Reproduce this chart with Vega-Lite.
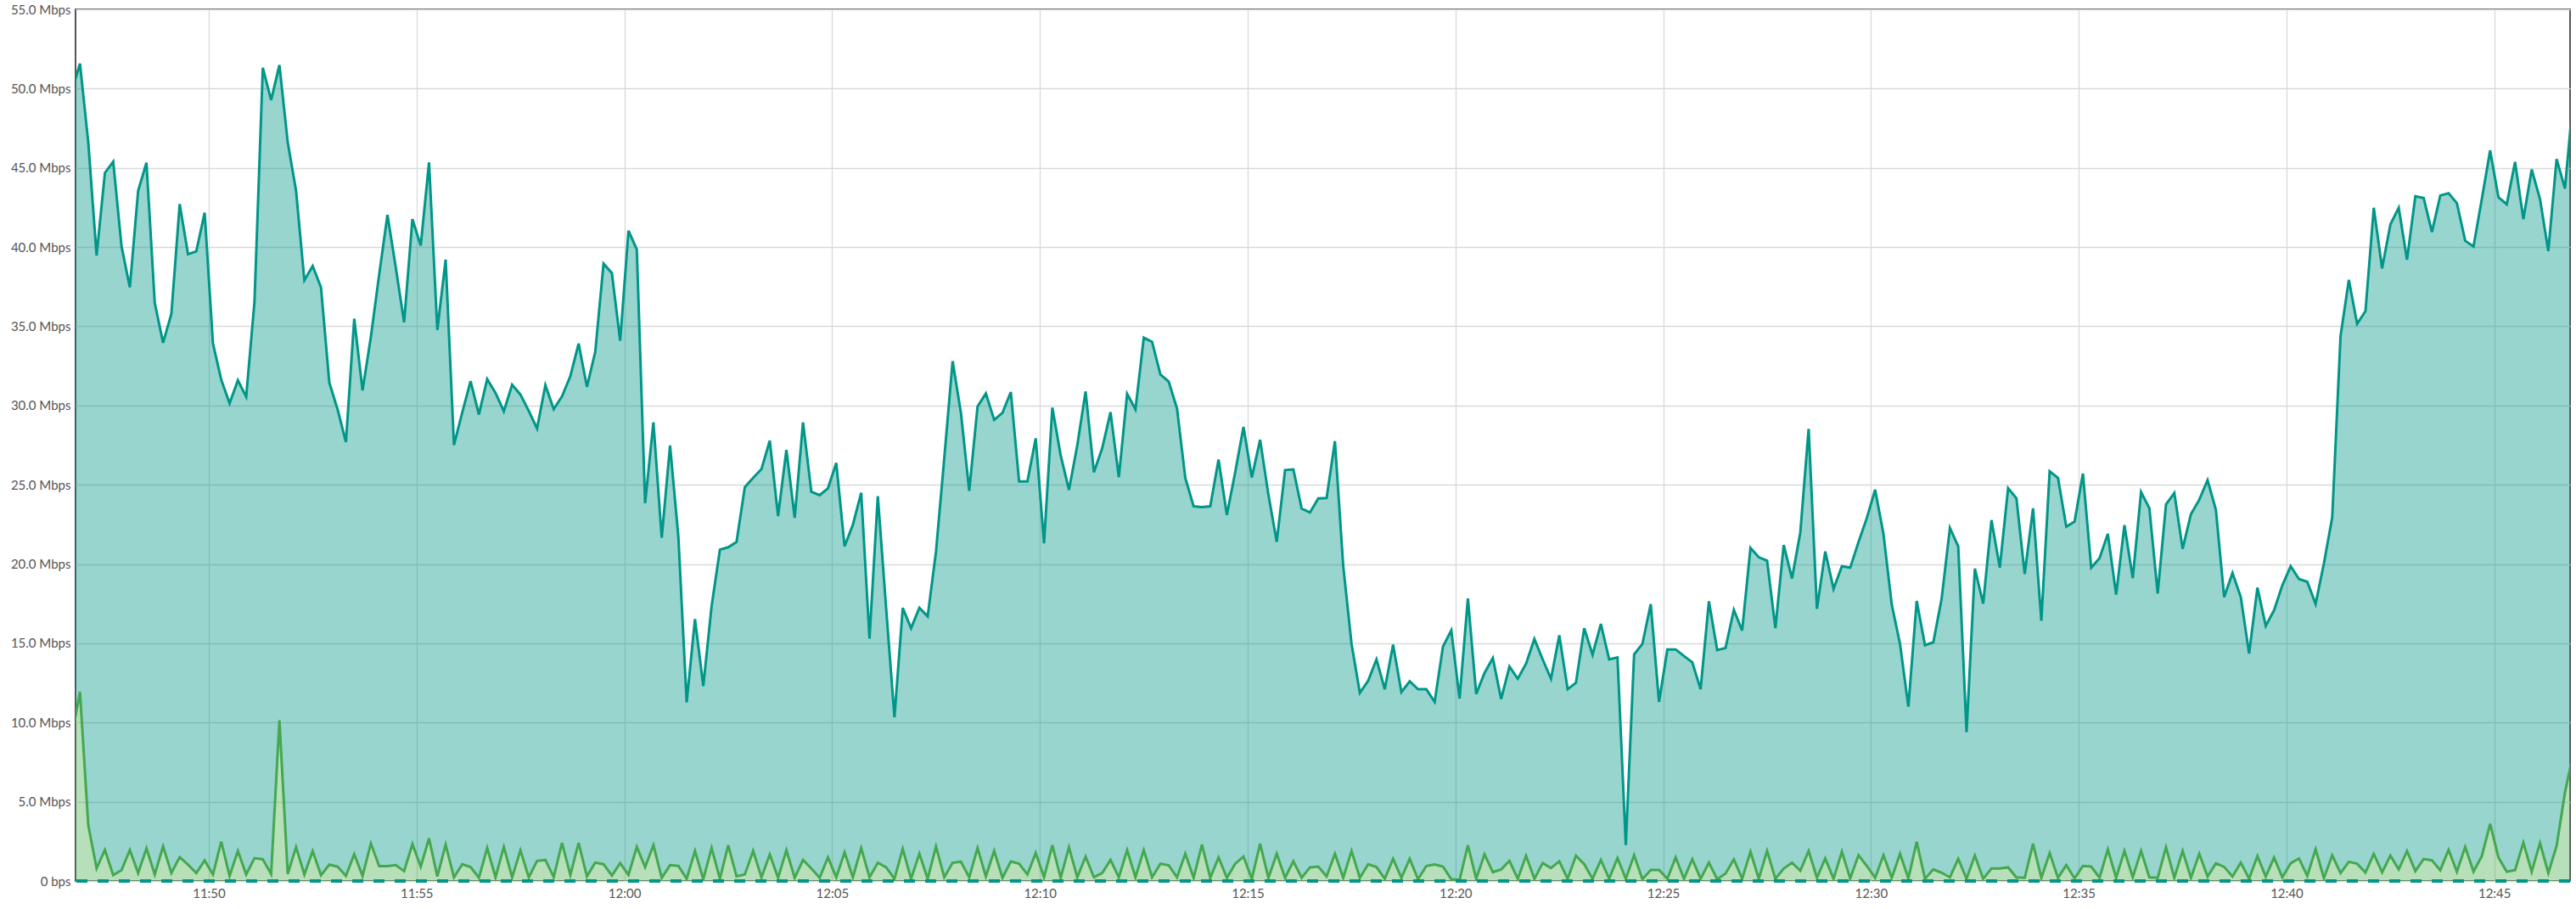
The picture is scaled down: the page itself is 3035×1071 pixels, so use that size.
{
"$schema": "https://vega.github.io/schema/vega-lite/v6.json",
"width": 2939, "height": 1027,
"autosize": "none",
"padding": {"left": 89, "top": 11, "right": 7, "bottom": 33},
"background": "white",
"config": {"view": {"stroke": "#555555", "strokeWidth": 2}, "font": "Lato"},
"data": {"values": [
{"t":"2024-01-01T11:46:42Z","a":49.8,"g":9.04},
{"t":"2024-01-01T11:46:54Z","a":51.58,"g":11.94},
{"t":"2024-01-01T11:47:06Z","a":46.6,"g":3.52},
{"t":"2024-01-01T11:47:18Z","a":39.46,"g":0.8},
{"t":"2024-01-01T11:47:30Z","a":44.68,"g":1.96},
{"t":"2024-01-01T11:47:42Z","a":45.39,"g":0.37},
{"t":"2024-01-01T11:47:54Z","a":40.05,"g":0.68},
{"t":"2024-01-01T11:48:06Z","a":37.46,"g":1.96},
{"t":"2024-01-01T11:48:18Z","a":43.55,"g":0.5},
{"t":"2024-01-01T11:48:30Z","a":45.32,"g":2.06},
{"t":"2024-01-01T11:48:42Z","a":36.47,"g":0.41},
{"t":"2024-01-01T11:48:54Z","a":33.96,"g":2.19},
{"t":"2024-01-01T11:49:06Z","a":35.79,"g":0.5},
{"t":"2024-01-01T11:49:18Z","a":42.71,"g":1.51},
{"t":"2024-01-01T11:49:30Z","a":39.55,"g":1.03},
{"t":"2024-01-01T11:49:42Z","a":39.73,"g":0.5},
{"t":"2024-01-01T11:49:54Z","a":42.17,"g":1.3},
{"t":"2024-01-01T11:50:06Z","a":33.92,"g":0.41},
{"t":"2024-01-01T11:50:18Z","a":31.63,"g":2.49},
{"t":"2024-01-01T11:50:30Z","a":30.14,"g":0.32},
{"t":"2024-01-01T11:50:42Z","a":31.59,"g":1.9},
{"t":"2024-01-01T11:50:54Z","a":30.56,"g":0.41},
{"t":"2024-01-01T11:51:06Z","a":36.56,"g":1.44},
{"t":"2024-01-01T11:51:18Z","a":51.31,"g":1.37},
{"t":"2024-01-01T11:51:30Z","a":49.28,"g":0.44},
{"t":"2024-01-01T11:51:42Z","a":51.49,"g":10.14},
{"t":"2024-01-01T11:51:54Z","a":46.6,"g":0.44},
{"t":"2024-01-01T11:52:06Z","a":43.55,"g":2.14},
{"t":"2024-01-01T11:52:18Z","a":37.9,"g":0.41},
{"t":"2024-01-01T11:52:30Z","a":38.8,"g":1.89},
{"t":"2024-01-01T11:52:42Z","a":37.46,"g":0.37},
{"t":"2024-01-01T11:52:54Z","a":31.45,"g":1.03},
{"t":"2024-01-01T11:53:06Z","a":29.75,"g":0.91},
{"t":"2024-01-01T11:53:18Z","a":27.69,"g":0.32},
{"t":"2024-01-01T11:53:30Z","a":35.48,"g":1.69},
{"t":"2024-01-01T11:53:42Z","a":30.95,"g":0.32},
{"t":"2024-01-01T11:53:54Z","a":34.32,"g":2.37},
{"t":"2024-01-01T11:54:06Z","a":38.26,"g":0.94},
{"t":"2024-01-01T11:54:18Z","a":42.03,"g":0.94},
{"t":"2024-01-01T11:54:30Z","a":38.71,"g":1.0},
{"t":"2024-01-01T11:54:42Z","a":35.25,"g":0.62},
{"t":"2024-01-01T11:54:54Z","a":41.76,"g":2.33},
{"t":"2024-01-01T11:55:06Z","a":40.09,"g":0.9},
{"t":"2024-01-01T11:55:18Z","a":45.34,"g":2.69},
{"t":"2024-01-01T11:55:30Z","a":34.77,"g":0.29},
{"t":"2024-01-01T11:55:42Z","a":39.21,"g":2.29},
{"t":"2024-01-01T11:55:54Z","a":27.51,"g":0.23},
{"t":"2024-01-01T11:56:06Z","a":29.57,"g":1.06},
{"t":"2024-01-01T11:56:18Z","a":31.54,"g":0.88},
{"t":"2024-01-01T11:56:30Z","a":29.43,"g":0.2},
{"t":"2024-01-01T11:56:42Z","a":31.67,"g":2.08},
{"t":"2024-01-01T11:56:54Z","a":30.8,"g":0.23},
{"t":"2024-01-01T11:57:06Z","a":29.64,"g":2.15},
{"t":"2024-01-01T11:57:18Z","a":31.31,"g":0.23},
{"t":"2024-01-01T11:57:30Z","a":30.69,"g":1.94},
{"t":"2024-01-01T11:57:42Z","a":29.66,"g":0.23},
{"t":"2024-01-01T11:57:54Z","a":28.55,"g":1.27},
{"t":"2024-01-01T11:58:06Z","a":31.29,"g":1.33},
{"t":"2024-01-01T11:58:18Z","a":29.77,"g":0.25},
{"t":"2024-01-01T11:58:30Z","a":30.58,"g":2.4},
{"t":"2024-01-01T11:58:42Z","a":31.85,"g":0.38},
{"t":"2024-01-01T11:58:54Z","a":33.91,"g":2.4},
{"t":"2024-01-01T11:59:06Z","a":31.18,"g":0.29},
{"t":"2024-01-01T11:59:18Z","a":33.39,"g":1.16},
{"t":"2024-01-01T11:59:30Z","a":38.95,"g":1.06},
{"t":"2024-01-01T11:59:42Z","a":38.36,"g":0.34},
{"t":"2024-01-01T11:59:54Z","a":34.09,"g":1.13},
{"t":"2024-01-01T12:00:06Z","a":41.03,"g":0.38},
{"t":"2024-01-01T12:00:18Z","a":39.85,"g":2.15},
{"t":"2024-01-01T12:00:30Z","a":23.84,"g":0.88},
{"t":"2024-01-01T12:00:42Z","a":28.94,"g":2.26},
{"t":"2024-01-01T12:00:54Z","a":21.65,"g":0.2},
{"t":"2024-01-01T12:01:06Z","a":27.48,"g":1.0},
{"t":"2024-01-01T12:01:18Z","a":21.72,"g":0.95},
{"t":"2024-01-01T12:01:30Z","a":11.27,"g":0.14},
{"t":"2024-01-01T12:01:42Z","a":16.53,"g":1.9},
{"t":"2024-01-01T12:01:54Z","a":12.3,"g":0.11},
{"t":"2024-01-01T12:02:06Z","a":17.34,"g":2.08},
{"t":"2024-01-01T12:02:18Z","a":20.91,"g":0.14},
{"t":"2024-01-01T12:02:30Z","a":21.06,"g":2.26},
{"t":"2024-01-01T12:02:42Z","a":21.39,"g":0.29},
{"t":"2024-01-01T12:02:54Z","a":24.85,"g":0.41},
{"t":"2024-01-01T12:03:06Z","a":25.44,"g":1.9},
{"t":"2024-01-01T12:03:18Z","a":25.99,"g":0.23},
{"t":"2024-01-01T12:03:30Z","a":27.78,"g":1.68},
{"t":"2024-01-01T12:03:42Z","a":23.03,"g":0.2},
{"t":"2024-01-01T12:03:54Z","a":27.19,"g":1.94},
{"t":"2024-01-01T12:04:06Z","a":22.92,"g":0.2},
{"t":"2024-01-01T12:04:18Z","a":28.94,"g":1.33},
{"t":"2024-01-01T12:04:30Z","a":24.56,"g":0.79},
{"t":"2024-01-01T12:04:42Z","a":24.34,"g":0.2},
{"t":"2024-01-01T12:04:54Z","a":24.78,"g":1.49},
{"t":"2024-01-01T12:05:06Z","a":26.38,"g":0.23},
{"t":"2024-01-01T12:05:18Z","a":21.12,"g":1.81},
{"t":"2024-01-01T12:05:30Z","a":22.48,"g":0.23},
{"t":"2024-01-01T12:05:42Z","a":24.5,"g":2.08},
{"t":"2024-01-01T12:05:54Z","a":15.3,"g":0.23},
{"t":"2024-01-01T12:06:06Z","a":24.28,"g":1.15},
{"t":"2024-01-01T12:06:18Z","a":17.23,"g":0.86},
{"t":"2024-01-01T12:06:30Z","a":10.33,"g":0.14},
{"t":"2024-01-01T12:06:42Z","a":17.23,"g":2.03},
{"t":"2024-01-01T12:06:54Z","a":15.95,"g":0.14},
{"t":"2024-01-01T12:07:06Z","a":17.24,"g":1.72},
{"t":"2024-01-01T12:07:18Z","a":16.7,"g":0.14},
{"t":"2024-01-01T12:07:30Z","a":20.78,"g":2.17},
{"t":"2024-01-01T12:07:42Z","a":26.7,"g":0.23},
{"t":"2024-01-01T12:07:54Z","a":32.8,"g":1.15},
{"t":"2024-01-01T12:08:06Z","a":29.54,"g":1.22},
{"t":"2024-01-01T12:08:18Z","a":24.62,"g":0.23},
{"t":"2024-01-01T12:08:30Z","a":29.94,"g":2.08},
{"t":"2024-01-01T12:08:42Z","a":30.76,"g":0.29},
{"t":"2024-01-01T12:08:54Z","a":29.1,"g":1.9},
{"t":"2024-01-01T12:09:06Z","a":29.54,"g":0.2},
{"t":"2024-01-01T12:09:18Z","a":30.85,"g":1.23},
{"t":"2024-01-01T12:09:30Z","a":25.21,"g":1.09},
{"t":"2024-01-01T12:09:42Z","a":25.21,"g":0.41},
{"t":"2024-01-01T12:09:54Z","a":27.93,"g":1.77},
{"t":"2024-01-01T12:10:06Z","a":21.31,"g":0.23},
{"t":"2024-01-01T12:10:18Z","a":29.87,"g":2.26},
{"t":"2024-01-01T12:10:30Z","a":26.86,"g":0.2},
{"t":"2024-01-01T12:10:42Z","a":24.68,"g":2.13},
{"t":"2024-01-01T12:10:54Z","a":27.49,"g":0.23},
{"t":"2024-01-01T12:11:06Z","a":30.89,"g":1.54},
{"t":"2024-01-01T12:11:18Z","a":25.79,"g":0.23},
{"t":"2024-01-01T12:11:30Z","a":27.31,"g":0.5},
{"t":"2024-01-01T12:11:42Z","a":29.58,"g":1.33},
{"t":"2024-01-01T12:11:54Z","a":25.48,"g":0.23},
{"t":"2024-01-01T12:12:06Z","a":30.74,"g":1.95},
{"t":"2024-01-01T12:12:18Z","a":29.76,"g":0.23},
{"t":"2024-01-01T12:12:30Z","a":34.28,"g":1.95},
{"t":"2024-01-01T12:12:42Z","a":34.02,"g":0.23},
{"t":"2024-01-01T12:12:54Z","a":31.96,"g":1.09},
{"t":"2024-01-01T12:13:06Z","a":31.51,"g":0.99},
{"t":"2024-01-01T12:13:18Z","a":29.81,"g":0.23},
{"t":"2024-01-01T12:13:30Z","a":25.43,"g":1.72},
{"t":"2024-01-01T12:13:42Z","a":23.64,"g":0.2},
{"t":"2024-01-01T12:13:54Z","a":23.59,"g":2.29},
{"t":"2024-01-01T12:14:06Z","a":23.64,"g":0.2},
{"t":"2024-01-01T12:14:18Z","a":26.59,"g":1.49},
{"t":"2024-01-01T12:14:30Z","a":23.1,"g":0.2},
{"t":"2024-01-01T12:14:42Z","a":25.79,"g":1.09},
{"t":"2024-01-01T12:14:54Z","a":28.65,"g":1.54},
{"t":"2024-01-01T12:15:06Z","a":25.46,"g":0.14},
{"t":"2024-01-01T12:15:18Z","a":27.84,"g":2.35},
{"t":"2024-01-01T12:15:30Z","a":24.36,"g":0.2},
{"t":"2024-01-01T12:15:42Z","a":21.4,"g":1.72},
{"t":"2024-01-01T12:15:54Z","a":25.93,"g":0.2},
{"t":"2024-01-01T12:16:06Z","a":25.97,"g":1.24},
{"t":"2024-01-01T12:16:18Z","a":23.5,"g":0.2},
{"t":"2024-01-01T12:16:30Z","a":23.25,"g":0.86},
{"t":"2024-01-01T12:16:42Z","a":24.14,"g":0.91},
{"t":"2024-01-01T12:16:54Z","a":24.16,"g":0.29},
{"t":"2024-01-01T12:17:06Z","a":27.75,"g":1.72},
{"t":"2024-01-01T12:17:18Z","a":19.88,"g":0.2},
{"t":"2024-01-01T12:17:30Z","a":14.96,"g":1.9},
{"t":"2024-01-01T12:17:42Z","a":11.87,"g":0.2},
{"t":"2024-01-01T12:17:54Z","a":12.64,"g":1.06},
{"t":"2024-01-01T12:18:06Z","a":13.98,"g":0.88},
{"t":"2024-01-01T12:18:18Z","a":12.1,"g":0.14},
{"t":"2024-01-01T12:18:30Z","a":14.91,"g":1.4},
{"t":"2024-01-01T12:18:42Z","a":11.92,"g":0.2},
{"t":"2024-01-01T12:18:54Z","a":12.6,"g":1.4},
{"t":"2024-01-01T12:19:06Z","a":12.1,"g":0.11},
{"t":"2024-01-01T12:19:18Z","a":12.1,"g":0.95},
{"t":"2024-01-01T12:19:30Z","a":11.3,"g":1.04},
{"t":"2024-01-01T12:19:42Z","a":14.79,"g":0.91},
{"t":"2024-01-01T12:19:54Z","a":15.81,"g":0.11},
{"t":"2024-01-01T12:20:06Z","a":11.51,"g":0.07},
{"t":"2024-01-01T12:20:18Z","a":17.83,"g":2.26},
{"t":"2024-01-01T12:20:30Z","a":11.8,"g":0.14},
{"t":"2024-01-01T12:20:42Z","a":13.12,"g":1.68},
{"t":"2024-01-01T12:20:54Z","a":14.07,"g":0.56},
{"t":"2024-01-01T12:21:06Z","a":11.48,"g":0.73},
{"t":"2024-01-01T12:21:18Z","a":13.53,"g":1.27},
{"t":"2024-01-01T12:21:30Z","a":12.76,"g":0.14},
{"t":"2024-01-01T12:21:42Z","a":13.71,"g":1.59},
{"t":"2024-01-01T12:21:54Z","a":15.27,"g":0.14},
{"t":"2024-01-01T12:22:06Z","a":13.98,"g":1.13},
{"t":"2024-01-01T12:22:18Z","a":12.76,"g":0.82},
{"t":"2024-01-01T12:22:30Z","a":15.5,"g":1.24},
{"t":"2024-01-01T12:22:42Z","a":12.1,"g":0.14},
{"t":"2024-01-01T12:22:54Z","a":12.51,"g":1.59},
{"t":"2024-01-01T12:23:06Z","a":15.95,"g":1.06},
{"t":"2024-01-01T12:23:18Z","a":14.28,"g":0.14},
{"t":"2024-01-01T12:23:30Z","a":16.22,"g":1.33},
{"t":"2024-01-01T12:23:42Z","a":13.98,"g":0.14},
{"t":"2024-01-01T12:23:54Z","a":14.11,"g":1.45},
{"t":"2024-01-01T12:24:06Z","a":2.26,"g":0.14},
{"t":"2024-01-01T12:24:18Z","a":14.3,"g":1.63},
{"t":"2024-01-01T12:24:30Z","a":14.96,"g":0.11},
{"t":"2024-01-01T12:24:42Z","a":17.47,"g":0.7},
{"t":"2024-01-01T12:24:54Z","a":11.3,"g":0.7},
{"t":"2024-01-01T12:25:06Z","a":14.61,"g":0.14},
{"t":"2024-01-01T12:25:18Z","a":14.61,"g":1.49},
{"t":"2024-01-01T12:25:30Z","a":14.2,"g":0.14},
{"t":"2024-01-01T12:25:42Z","a":13.8,"g":1.38},
{"t":"2024-01-01T12:25:54Z","a":12.1,"g":0.14},
{"t":"2024-01-01T12:26:06Z","a":17.65,"g":1.16},
{"t":"2024-01-01T12:26:18Z","a":14.57,"g":0.11},
{"t":"2024-01-01T12:26:30Z","a":14.7,"g":0.47},
{"t":"2024-01-01T12:26:42Z","a":17.11,"g":1.36},
{"t":"2024-01-01T12:26:54Z","a":15.8,"g":0.14},
{"t":"2024-01-01T12:27:06Z","a":21.02,"g":1.85},
{"t":"2024-01-01T12:27:18Z","a":20.43,"g":0.14},
{"t":"2024-01-01T12:27:30Z","a":20.21,"g":1.9},
{"t":"2024-01-01T12:27:42Z","a":15.96,"g":0.14},
{"t":"2024-01-01T12:27:54Z","a":21.2,"g":0.79},
{"t":"2024-01-01T12:28:06Z","a":19.09,"g":1.15},
{"t":"2024-01-01T12:28:18Z","a":22.0,"g":0.65},
{"t":"2024-01-01T12:28:30Z","a":28.53,"g":1.9},
{"t":"2024-01-01T12:28:42Z","a":17.17,"g":0.2},
{"t":"2024-01-01T12:28:54Z","a":20.79,"g":1.42},
{"t":"2024-01-01T12:29:06Z","a":18.43,"g":0.14},
{"t":"2024-01-01T12:29:18Z","a":19.86,"g":1.85},
{"t":"2024-01-01T12:29:30Z","a":19.77,"g":0.16},
{"t":"2024-01-01T12:29:42Z","a":21.38,"g":1.63},
{"t":"2024-01-01T12:29:54Z","a":22.9,"g":0.95},
{"t":"2024-01-01T12:30:06Z","a":24.69,"g":0.2},
{"t":"2024-01-01T12:30:18Z","a":21.91,"g":1.63},
{"t":"2024-01-01T12:30:30Z","a":17.44,"g":0.2},
{"t":"2024-01-01T12:30:42Z","a":14.94,"g":1.72},
{"t":"2024-01-01T12:30:54Z","a":11.0,"g":0.16},
{"t":"2024-01-01T12:31:06Z","a":17.67,"g":2.47},
{"t":"2024-01-01T12:31:18Z","a":14.88,"g":0.14},
{"t":"2024-01-01T12:31:30Z","a":15.06,"g":0.73},
{"t":"2024-01-01T12:31:42Z","a":17.8,"g":0.52},
{"t":"2024-01-01T12:31:54Z","a":22.27,"g":0.23},
{"t":"2024-01-01T12:32:06Z","a":21.11,"g":1.4},
{"t":"2024-01-01T12:32:18Z","a":9.39,"g":0.14},
{"t":"2024-01-01T12:32:30Z","a":19.71,"g":1.61},
{"t":"2024-01-01T12:32:42Z","a":17.5,"g":0.14},
{"t":"2024-01-01T12:32:54Z","a":22.77,"g":0.79},
{"t":"2024-01-01T12:33:06Z","a":19.77,"g":0.79},
{"t":"2024-01-01T12:33:18Z","a":24.78,"g":0.86},
{"t":"2024-01-01T12:33:30Z","a":24.15,"g":0.23},
{"t":"2024-01-01T12:33:42Z","a":19.37,"g":0.2},
{"t":"2024-01-01T12:33:54Z","a":23.52,"g":2.35},
{"t":"2024-01-01T12:34:06Z","a":16.42,"g":0.2},
{"t":"2024-01-01T12:34:18Z","a":25.85,"g":1.76},
{"t":"2024-01-01T12:34:30Z","a":25.44,"g":0.2},
{"t":"2024-01-01T12:34:42Z","a":22.36,"g":1.0},
{"t":"2024-01-01T12:34:54Z","a":22.68,"g":0.16},
{"t":"2024-01-01T12:35:06Z","a":25.71,"g":0.95},
{"t":"2024-01-01T12:35:18Z","a":19.77,"g":0.91},
{"t":"2024-01-01T12:35:30Z","a":20.36,"g":0.2},
{"t":"2024-01-01T12:35:42Z","a":21.91,"g":1.99},
{"t":"2024-01-01T12:35:54Z","a":18.07,"g":0.2},
{"t":"2024-01-01T12:36:06Z","a":22.45,"g":1.9},
{"t":"2024-01-01T12:36:18Z","a":19.11,"g":0.23},
{"t":"2024-01-01T12:36:30Z","a":24.54,"g":1.9},
{"t":"2024-01-01T12:36:42Z","a":23.52,"g":0.23},
{"t":"2024-01-01T12:36:54Z","a":18.13,"g":0.2},
{"t":"2024-01-01T12:37:06Z","a":23.76,"g":2.13},
{"t":"2024-01-01T12:37:18Z","a":24.48,"g":0.2},
{"t":"2024-01-01T12:37:30Z","a":20.96,"g":1.9},
{"t":"2024-01-01T12:37:42Z","a":23.15,"g":0.2},
{"t":"2024-01-01T12:37:54Z","a":24.05,"g":1.72},
{"t":"2024-01-01T12:38:06Z","a":25.29,"g":0.28},
{"t":"2024-01-01T12:38:18Z","a":23.43,"g":1.12},
{"t":"2024-01-01T12:38:30Z","a":17.91,"g":0.89},
{"t":"2024-01-01T12:38:42Z","a":19.43,"g":0.28},
{"t":"2024-01-01T12:38:54Z","a":17.91,"g":1.16},
{"t":"2024-01-01T12:39:06Z","a":14.35,"g":0.14},
{"t":"2024-01-01T12:39:18Z","a":18.51,"g":1.57},
{"t":"2024-01-01T12:39:30Z","a":16.1,"g":0.28},
{"t":"2024-01-01T12:39:42Z","a":17.08,"g":1.48},
{"t":"2024-01-01T12:39:54Z","a":18.66,"g":0.23},
{"t":"2024-01-01T12:40:06Z","a":19.86,"g":1.12},
{"t":"2024-01-01T12:40:18Z","a":19.05,"g":1.42},
{"t":"2024-01-01T12:40:30Z","a":18.88,"g":0.32},
{"t":"2024-01-01T12:40:42Z","a":17.48,"g":2.01},
{"t":"2024-01-01T12:40:54Z","a":20.04,"g":0.18},
{"t":"2024-01-01T12:41:06Z","a":22.95,"g":1.62},
{"t":"2024-01-01T12:41:18Z","a":34.38,"g":0.5},
{"t":"2024-01-01T12:41:30Z","a":37.93,"g":1.21},
{"t":"2024-01-01T12:41:42Z","a":35.15,"g":1.09},
{"t":"2024-01-01T12:41:54Z","a":35.96,"g":0.53},
{"t":"2024-01-01T12:42:06Z","a":42.48,"g":1.71},
{"t":"2024-01-01T12:42:18Z","a":38.65,"g":0.55},
{"t":"2024-01-01T12:42:30Z","a":41.43,"g":1.6},
{"t":"2024-01-01T12:42:42Z","a":42.48,"g":0.73},
{"t":"2024-01-01T12:42:54Z","a":39.2,"g":1.89},
{"t":"2024-01-01T12:43:06Z","a":43.2,"g":0.62},
{"t":"2024-01-01T12:43:18Z","a":43.09,"g":1.39},
{"t":"2024-01-01T12:43:30Z","a":40.95,"g":1.3},
{"t":"2024-01-01T12:43:42Z","a":43.25,"g":0.68},
{"t":"2024-01-01T12:43:54Z","a":43.4,"g":1.96},
{"t":"2024-01-01T12:44:06Z","a":42.77,"g":0.59},
{"t":"2024-01-01T12:44:18Z","a":40.4,"g":2.15},
{"t":"2024-01-01T12:44:30Z","a":40.03,"g":0.59},
{"t":"2024-01-01T12:44:42Z","a":43.03,"g":1.57},
{"t":"2024-01-01T12:44:54Z","a":46.09,"g":3.61},
{"t":"2024-01-01T12:45:06Z","a":43.14,"g":1.48},
{"t":"2024-01-01T12:45:18Z","a":42.7,"g":0.59},
{"t":"2024-01-01T12:45:30Z","a":45.37,"g":0.68},
{"t":"2024-01-01T12:45:42Z","a":41.76,"g":2.42},
{"t":"2024-01-01T12:45:54Z","a":44.89,"g":0.59},
{"t":"2024-01-01T12:46:06Z","a":43.03,"g":2.4},
{"t":"2024-01-01T12:46:18Z","a":39.75,"g":0.5},
{"t":"2024-01-01T12:46:30Z","a":45.55,"g":2.22},
{"t":"2024-01-01T12:46:42Z","a":43.69,"g":5.57},
{"t":"2024-01-01T12:46:54Z","a":49.4,"g":8.07}
]},
"layer": [
  {"mark": {"type": "area", "color": "#009688", "fillOpacity": 0.4, "clip": true},
   "encoding": {
     "x": {"field": "t", "type": "temporal", "title": null, "scale": {"type": "utc", "domain": [1704109607600, 1704113209400], "nice": false},
       "axis": {"format": "%H:%M", "values": [1704109800000, 1704110100000, 1704110400000, 1704110700000, 1704111000000, 1704111300000, 1704111600000, 1704111900000, 1704112200000, 1704112500000, 1704112800000, 1704113100000], "grid": true, "gridColor": "#d9d9d9", "gridWidth": 1.3, "ticks": false, "domain": false, "labelFontSize": 15, "labelColor": "#555555", "labelPadding": 7}},
     "y": {"field": "a", "type": "quantitative", "title": null,
      "scale": {"domain": [0, 55], "nice": false},
      "axis": {"values": [0, 5, 10, 15, 20, 25, 30, 35, 40, 45, 50, 55], "labelExpr": "datum.value == 0 ? '0 bps' : format(datum.value, '.1f') + ' Mbps'", "grid": true, "gridColor": "#d9d9d9", "gridWidth": 1.3, "ticks": false, "domain": false, "labelFontSize": 15, "labelColor": "#555555", "labelPadding": 6}},
     "y2": {"field": "g"}}},
  {"mark": {"type": "line", "color": "#009688", "strokeWidth": 3, "clip": true},
   "encoding": {"x": {"field": "t", "type": "temporal"}, "y": {"field": "a", "type": "quantitative", "title": null}}},
  {"mark": {"type": "area", "color": "#4caf50", "fillOpacity": 0.4, "clip": true},
   "encoding": {"x": {"field": "t", "type": "temporal"}, "y": {"field": "g", "type": "quantitative", "title": null}}},
  {"mark": {"type": "line", "color": "#43a84f", "strokeWidth": 3, "clip": true},
   "encoding": {"x": {"field": "t", "type": "temporal"}, "y": {"field": "g", "type": "quantitative", "title": null}}},
  {"mark": {"type": "rule", "color": "#009688", "strokeWidth": 3, "strokeDash": [13, 12]},
   "encoding": {"y": {"datum": 0}}}
]
}
